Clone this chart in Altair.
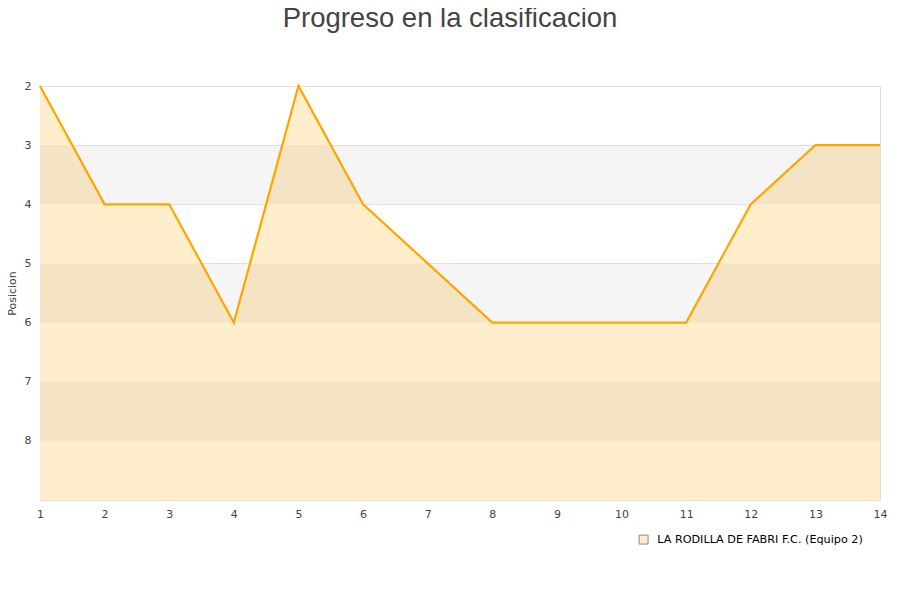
import altair as alt
import pandas as pd

jornadas = [1, 2, 3, 4, 5, 6, 7, 8, 9, 10, 11, 12, 13, 14]
posiciones = [2, 4, 4, 6, 2, 4, 5, 6, 6, 6, 6, 4, 3, 3]
equipo = "LA RODILLA DE FABRI F.C. (Equipo 2)"
y_ticks = [2, 3, 4, 5, 6, 7, 8]
band_start = [3, 5, 7]
band_end = [4, 6, 8]

df = pd.DataFrame({"Jornada": jornadas, "Posicion": posiciones, "Equipo": [equipo] * len(jornadas)})
bands = pd.DataFrame({"y1": band_start, "y2": band_end, "x1": [jornadas[0]] * 3, "x2": [jornadas[-1]] * 3})

xs = alt.Scale(domain=[1, 14], nice=False, zero=False)
ys = alt.Scale(domain=[2, 9], reverse=True, nice=False, zero=False)

xaxis = alt.Axis(values=jornadas, format="d", title=None, grid=False, ticks=False, domain=False,
                 labelFont="DejaVu Sans", labelFontSize=11, labelColor="#444", labelPadding=8,
                 labelFlush=False)
yaxis = alt.Axis(values=y_ticks, format="d", title="Posicion", grid=True, gridColor="#e2e2e2", ticks=False,
                 domain=False, labelFont="DejaVu Sans", labelFontSize=11, labelColor="#444",
                 labelPadding=9, titleFont="DejaVu Sans", titleFontSize=11, titleFontWeight="normal",
                 titleColor="#444", titlePadding=7)

area = alt.Chart(df).mark_area(color="#ffeecc", opacity=1).encode(
    x=alt.X("Jornada:Q", scale=xs, axis=xaxis),
    y=alt.Y("Posicion:Q", scale=ys, axis=yaxis),
    y2=alt.datum(9),
    fill=alt.Fill("Equipo:N", scale=alt.Scale(range=["#ffeecc"]),
                  legend=alt.Legend(title=None, orient="none", legendX=598, legendY=448,
                                    symbolType="square", symbolSize=80, symbolStrokeColor="#888",
                                    symbolStrokeWidth=1, labelFont="DejaVu Sans", labelFontSize=11.2,
                                    labelColor="#000", labelLimit=400, labelOffset=8)),
)

band = alt.Chart(bands).mark_rect(color="#000", opacity=0.04).encode(
    x=alt.X("x1:Q", scale=xs), x2="x2:Q",
    y=alt.Y("y1:Q", scale=ys), y2="y2:Q",
)

line = alt.Chart(df).mark_line(color="#ffa500", strokeWidth=2.2).encode(
    x=alt.X("Jornada:Q", scale=xs),
    y=alt.Y("Posicion:Q", scale=ys),
)

chart = alt.layer(area, band, line).properties(
    width=840, height=414,
    title=alt.TitleParams("Progreso en la clasificacion", font="Liberation Sans", fontSize=27.5,
                          fontWeight="normal", color="#444", anchor="middle", offset=48, dx=-10),
    padding={"left": 32, "top": 78, "right": 12, "bottom": 70},
    autosize=alt.AutoSizeParams(type="none"),
).configure_view(stroke="#dddddd", strokeWidth=1)

chart.save("out.html", embed_options={"renderer": "svg", "actions": False})
